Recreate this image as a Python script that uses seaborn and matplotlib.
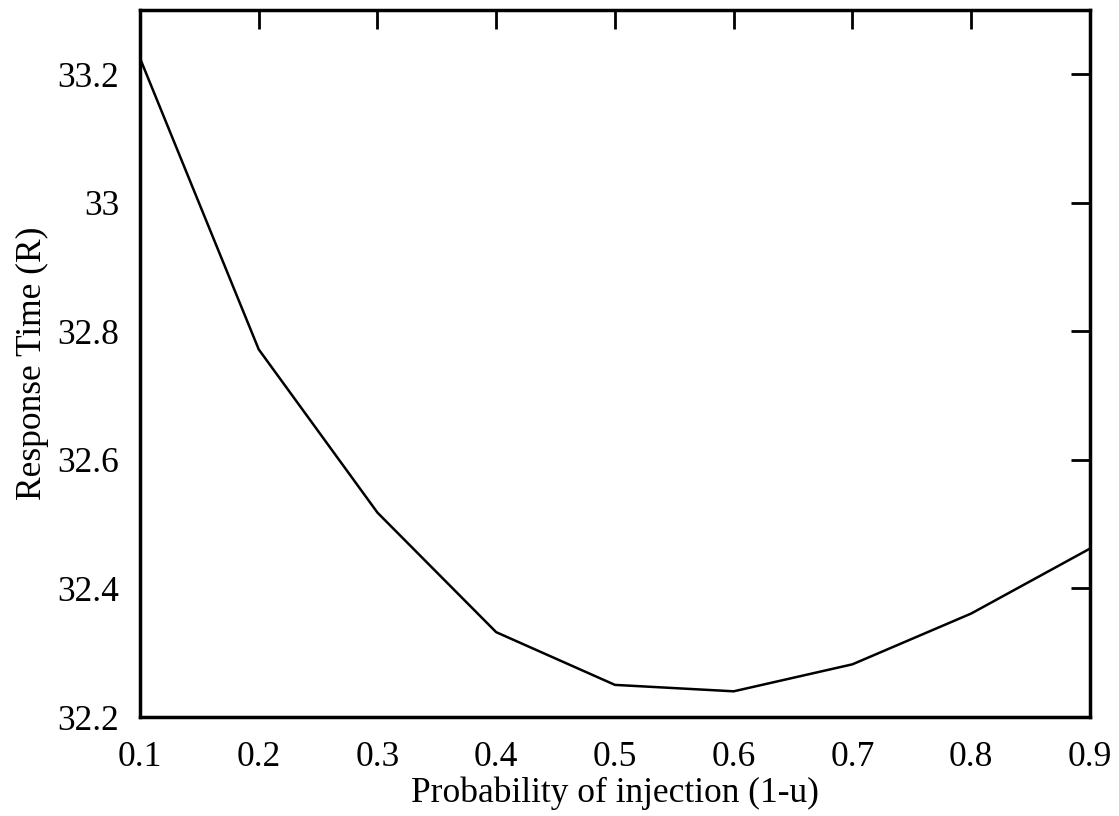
import numpy as np
import pandas as pd
import seaborn as sns
import matplotlib
matplotlib.use("Agg")
import matplotlib.pyplot as plt

# values
prob_injection = [0.1, 0.2, 0.3, 0.4, 0.5, 0.6, 0.7, 0.8, 0.9]
response_time = [33.225, 32.772, 32.518, 32.332, 32.250, 32.240, 32.282, 32.361, 32.462]

x_ticks = [0.1, 0.2, 0.3, 0.4, 0.5, 0.6, 0.7, 0.8, 0.9]
x_ticklabels = ["0.1", "0.2", "0.3", "0.4", "0.5", "0.6", "0.7", "0.8", "0.9"]
y_ticks = [32.2, 32.4, 32.6, 32.8, 33.0, 33.2]
y_ticklabels = ["32.2", "32.4", "32.6", "32.8", "33", "33.2"]

df = pd.DataFrame({"p": prob_injection, "R": response_time})

sns.set_style("white")
plt.rcParams['font.family'] = ['Liberation Serif', 'DejaVu Serif']

fig = plt.figure(figsize=(11.19, 8.16), dpi=100)
ax = fig.add_axes([0.1251, 0.1213, 0.974 - 0.1251, 0.9877 - 0.1213])

sns.lineplot(data=df, x="p", y="R", color="black", linewidth=1.8, ax=ax)

ax.set_xlim(0.1, 0.9)
ax.set_ylim(32.2, 33.3)
ax.set_xticks(x_ticks)
ax.set_xticklabels(x_ticklabels)
ax.set_yticks(y_ticks)
ax.set_yticklabels(y_ticklabels)

ax.tick_params(direction="in", length=14, width=2, labelsize=25.5, colors="black",
               top=True, right=True)
ax.tick_params(axis="x", pad=17)
ax.tick_params(axis="y", pad=15)
for s in ax.spines.values():
    s.set_linewidth(2.5)
    s.set_color("black")

ax.set_xlabel("Probability of injection (1-u)", fontsize=25.5, labelpad=2, color="black")
ax.set_ylabel("Response Time (R)", fontsize=25.5, labelpad=6, color="black")

fig.savefig("out.png", dpi=100)
